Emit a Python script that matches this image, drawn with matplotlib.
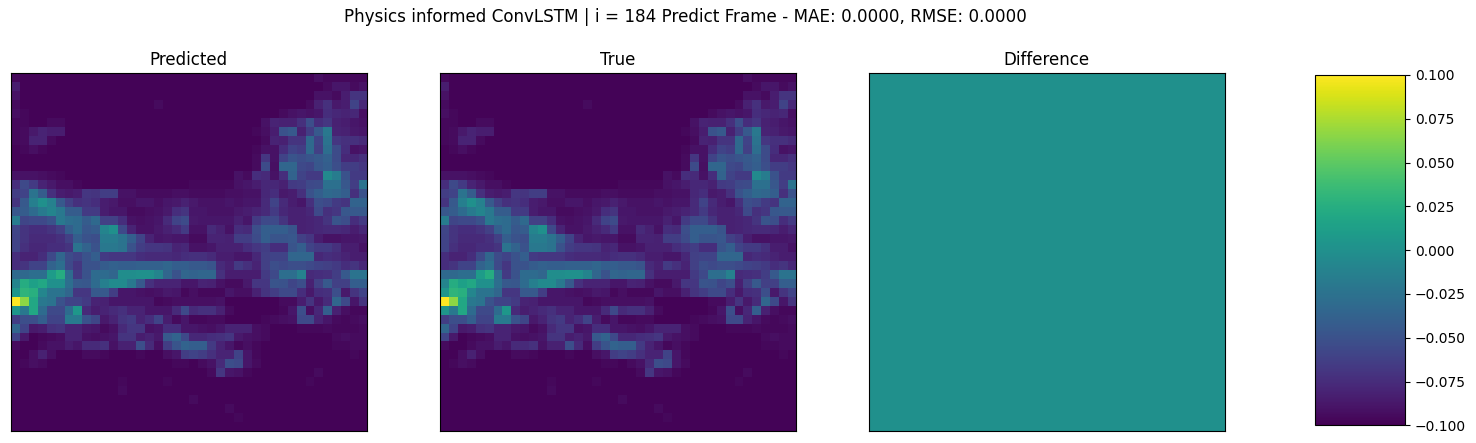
import numpy as np
import matplotlib
matplotlib.use("Agg")
import matplotlib.pyplot as plt

W, H = 1476, 443

SUPTITLE = "Physics informed ConvLSTM | i = 184 Predict Frame - MAE: 0.0000, RMSE: 0.0000"
PANEL_TITLES = ["Predicted", "True", "Difference"]
CBAR_TICKS = [-0.100, -0.075, -0.050, -0.025, 0.000, 0.025, 0.050, 0.075, 0.100]

# frame values, in percent of the frame maximum
# columns 0-19
left_half = [
    [2, 1, 1, 1, 1, 1, 1, 1, 1, 1, 1, 1, 1, 1, 1, 1, 1, 1, 1, 1],
    [8, 1, 1, 1, 1, 1, 1, 1, 1, 1, 1, 1, 1, 1, 1, 1, 1, 1, 1, 1],
    [5, 1, 1, 1, 1, 1, 1, 1, 1, 1, 1, 1, 1, 1, 1, 1, 1, 1, 1, 1],
    [3, 1, 1, 1, 1, 1, 1, 1, 1, 1, 1, 1, 1, 1, 1, 1, 3, 1, 1, 1],
    [4, 2, 1, 1, 1, 1, 1, 1, 1, 1, 1, 1, 1, 1, 1, 1, 1, 1, 1, 1],
    [2, 2, 1, 1, 3, 3, 1, 1, 1, 1, 1, 1, 1, 1, 1, 1, 1, 1, 1, 1],
    [2, 3, 7, 10, 8, 8, 1, 1, 1, 1, 1, 1, 1, 1, 1, 1, 1, 1, 1, 1],
    [2, 3, 10, 10, 3, 1, 1, 1, 1, 1, 1, 1, 1, 1, 1, 1, 1, 1, 1, 1],
    [1, 2, 4, 2, 1, 1, 1, 1, 1, 1, 1, 1, 1, 1, 1, 1, 1, 1, 1, 1],
    [1, 1, 1, 1, 1, 1, 1, 1, 1, 1, 1, 1, 1, 1, 1, 1, 1, 1, 1, 1],
    [1, 1, 1, 1, 1, 1, 1, 1, 1, 1, 1, 1, 1, 1, 1, 1, 1, 1, 1, 1],
    [5, 5, 5, 4, 3, 2, 1, 1, 1, 1, 1, 1, 1, 1, 1, 1, 1, 1, 1, 1],
    [13, 22, 17, 10, 7, 4, 4, 2, 1, 1, 1, 1, 1, 1, 1, 1, 1, 1, 1, 1],
    [18, 20, 38, 29, 14, 8, 7, 8, 16, 15, 18, 18, 5, 5, 3, 3, 3, 3, 4, 4],
    [15, 28, 43, 50, 44, 28, 19, 14, 15, 13, 8, 7, 4, 4, 6, 6, 4, 6, 7, 9],
    [27, 29, 35, 41, 45, 40, 29, 29, 17, 17, 8, 6, 6, 3, 3, 4, 5, 7, 13, 15],
    [42, 21, 22, 22, 25, 40, 36, 35, 29, 34, 19, 19, 13, 5, 4, 5, 6, 12, 20, 23],
    [21, 15, 13, 13, 15, 19, 30, 35, 27, 29, 45, 50, 22, 10, 5, 5, 7, 9, 12, 17],
    [20, 15, 12, 12, 12, 14, 19, 30, 25, 24, 42, 42, 38, 30, 20, 10, 6, 7, 6, 6],
    [20, 14, 11, 11, 13, 13, 15, 38, 32, 25, 40, 40, 38, 25, 18, 16, 16, 15, 10, 11],
    [13, 10, 10, 13, 22, 33, 23, 20, 25, 30, 17, 16, 16, 16, 13, 12, 12, 12, 11, 13],
    [13, 15, 20, 20, 32, 36, 22, 16, 25, 25, 29, 31, 30, 30, 31, 31, 31, 33, 30, 30],
    [34, 34, 36, 36, 55, 62, 35, 17, 25, 35, 35, 33, 49, 49, 50, 50, 45, 33, 25, 33],
    [45, 62, 57, 60, 50, 50, 36, 28, 27, 35, 43, 48, 48, 40, 28, 14, 10, 10, 10, 6],
    [52, 65, 63, 46, 38, 38, 33, 16, 16, 28, 28, 18, 6, 6, 5, 4, 5, 7, 6, 2],
    [100, 83, 60, 40, 38, 25, 20, 20, 17, 10, 9, 6, 6, 6, 6, 6, 2, 3, 4, 4],
    [52, 40, 60, 35, 22, 22, 35, 53, 12, 8, 10, 12, 14, 10, 10, 6, 6, 6, 12, 22],
    [18, 24, 24, 30, 20, 20, 41, 41, 25, 21, 7, 10, 15, 17, 10, 13, 20, 8, 3, 6],
    [33, 20, 7, 8, 14, 15, 10, 10, 7, 6, 3, 5, 12, 16, 16, 5, 6, 13, 13, 6],
    [20, 7, 1, 2, 3, 4, 10, 10, 5, 4, 5, 6, 15, 15, 8, 10, 7, 28, 32, 22],
    [3, 1, 1, 3, 5, 5, 8, 6, 12, 12, 14, 5, 9, 9, 24, 12, 4, 18, 26, 32],
    [1, 1, 4, 9, 4, 1, 1, 1, 3, 3, 2, 1, 1, 1, 2, 1, 1, 4, 6, 18],
    [1, 2, 4, 3, 1, 1, 1, 1, 1, 1, 1, 1, 1, 1, 1, 1, 1, 1, 2, 2],
    [1, 1, 1, 1, 1, 1, 1, 1, 1, 1, 1, 1, 1, 1, 1, 1, 1, 1, 1, 1],
    [1, 1, 1, 1, 1, 1, 1, 1, 1, 1, 1, 1, 2, 1, 1, 1, 1, 2, 1, 1],
    [1, 1, 1, 1, 1, 1, 1, 1, 1, 1, 1, 1, 3, 1, 1, 1, 1, 1, 1, 1],
    [1, 1, 1, 1, 1, 1, 1, 1, 1, 1, 1, 1, 1, 1, 1, 1, 1, 1, 1, 1],
    [1, 1, 1, 1, 1, 1, 1, 1, 1, 1, 1, 1, 1, 1, 1, 1, 1, 1, 1, 1],
    [1, 1, 1, 1, 1, 1, 1, 1, 1, 1, 1, 1, 1, 1, 1, 1, 1, 1, 1, 1],
    [1, 1, 1, 1, 1, 1, 1, 1, 1, 1, 1, 1, 1, 1, 1, 1, 1, 1, 1, 1],
]

# columns 20-39
right_half = [
    [1, 1, 1, 1, 1, 1, 1, 1, 1, 1, 1, 1, 1, 1, 4, 2, 2, 2, 2, 2],
    [1, 1, 1, 1, 1, 1, 1, 1, 1, 1, 1, 1, 1, 1, 1, 3, 6, 6, 3, 5],
    [1, 1, 1, 1, 1, 1, 1, 1, 1, 1, 1, 1, 1, 1, 5, 5, 3, 8, 15, 15],
    [1, 1, 1, 1, 1, 1, 1, 1, 1, 1, 1, 1, 1, 3, 9, 14, 7, 8, 20, 11],
    [1, 1, 1, 1, 1, 1, 1, 1, 1, 1, 3, 5, 6, 5, 6, 13, 11, 10, 11, 4],
    [1, 1, 1, 1, 1, 1, 1, 1, 5, 10, 9, 9, 14, 24, 13, 16, 9, 8, 6, 5],
    [1, 1, 1, 1, 1, 1, 1, 2, 4, 8, 25, 28, 9, 18, 28, 40, 10, 9, 7, 6],
    [1, 1, 1, 1, 1, 1, 1, 1, 3, 10, 9, 15, 15, 34, 20, 38, 16, 14, 14, 12],
    [1, 1, 1, 1, 1, 1, 1, 2, 5, 5, 13, 20, 18, 34, 19, 36, 23, 13, 5, 6],
    [1, 1, 1, 1, 1, 1, 1, 3, 16, 5, 20, 26, 24, 26, 28, 31, 23, 11, 11, 14],
    [1, 1, 1, 1, 1, 1, 1, 3, 23, 4, 33, 33, 22, 21, 27, 30, 24, 18, 18, 16],
    [1, 1, 1, 1, 1, 5, 3, 13, 12, 5, 13, 32, 20, 17, 17, 48, 42, 25, 17, 17],
    [2, 2, 2, 2, 2, 5, 6, 8, 11, 11, 9, 17, 18, 22, 23, 37, 37, 27, 18, 38],
    [3, 3, 3, 3, 4, 4, 5, 5, 11, 13, 7, 8, 14, 25, 30, 34, 33, 30, 14, 25],
    [7, 5, 5, 5, 6, 5, 6, 6, 12, 20, 12, 8, 6, 14, 24, 22, 17, 15, 32, 32],
    [6, 6, 5, 5, 5, 7, 8, 10, 12, 17, 11, 9, 9, 11, 22, 14, 16, 27, 28, 28],
    [7, 6, 6, 6, 6, 9, 6, 17, 22, 22, 15, 9, 9, 10, 11, 15, 26, 24, 13, 17],
    [5, 5, 12, 9, 5, 13, 12, 24, 30, 30, 30, 26, 9, 10, 11, 12, 12, 11, 8, 11],
    [3, 3, 10, 10, 9, 18, 18, 23, 30, 26, 26, 27, 19, 16, 8, 5, 5, 6, 6, 7],
    [5, 5, 6, 9, 9, 9, 13, 16, 18, 13, 13, 26, 30, 20, 17, 17, 14, 8, 8, 5],
    [14, 14, 12, 8, 8, 6, 6, 11, 19, 20, 20, 33, 33, 33, 11, 13, 12, 10, 8, 8],
    [28, 28, 26, 12, 9, 17, 14, 10, 19, 24, 22, 24, 24, 22, 20, 19, 17, 13, 15, 11],
    [32, 33, 33, 14, 8, 8, 8, 8, 17, 22, 36, 36, 44, 12, 13, 14, 18, 28, 38, 38],
    [6, 10, 9, 5, 3, 3, 7, 16, 16, 26, 25, 21, 24, 9, 19, 28, 19, 19, 30, 30],
    [4, 2, 2, 2, 6, 4, 4, 9, 15, 18, 22, 22, 13, 7, 13, 14, 24, 7, 15, 20],
    [4, 4, 4, 5, 1, 1, 1, 1, 1, 1, 3, 3, 8, 15, 7, 12, 33, 22, 6, 15],
    [12, 14, 14, 9, 3, 1, 1, 1, 1, 1, 2, 6, 24, 4, 11, 30, 9, 4, 2, 2],
    [2, 2, 3, 3, 1, 1, 1, 1, 2, 3, 4, 5, 22, 22, 10, 6, 3, 2, 3, 4],
    [6, 5, 4, 6, 10, 10, 10, 4, 3, 1, 1, 1, 2, 2, 2, 3, 2, 2, 2, 3],
    [11, 11, 13, 14, 16, 7, 5, 4, 3, 1, 1, 1, 1, 1, 1, 1, 3, 4, 3, 3],
    [30, 30, 17, 10, 6, 2, 4, 2, 1, 1, 1, 1, 1, 1, 1, 1, 2, 2, 3, 3],
    [20, 18, 14, 10, 10, 20, 6, 2, 1, 1, 1, 1, 1, 1, 1, 1, 1, 1, 2, 1],
    [1, 3, 5, 12, 24, 22, 6, 3, 1, 1, 1, 1, 1, 1, 1, 1, 1, 1, 1, 1],
    [1, 1, 3, 16, 6, 5, 2, 1, 1, 1, 1, 1, 1, 1, 3, 1, 1, 1, 1, 1],
    [1, 1, 1, 1, 1, 1, 1, 1, 1, 1, 1, 1, 1, 2, 1, 1, 1, 1, 1, 1],
    [1, 1, 1, 1, 1, 1, 1, 1, 1, 1, 1, 1, 1, 1, 1, 1, 1, 1, 1, 1],
    [3, 1, 1, 1, 1, 1, 1, 1, 1, 1, 1, 1, 1, 1, 1, 1, 1, 1, 1, 1],
    [1, 1, 1, 1, 3, 1, 1, 1, 1, 1, 1, 1, 1, 1, 1, 1, 1, 1, 1, 1],
    [1, 1, 1, 1, 1, 2, 1, 1, 1, 1, 1, 1, 1, 1, 1, 1, 1, 1, 1, 1],
    [1, 1, 1, 1, 1, 1, 1, 1, 1, 1, 1, 1, 1, 1, 1, 1, 1, 1, 1, 1],
]


def px_axes(fig, x0, y0, x1, y1):
    # pixel box measured from the top-left corner of the reference
    return fig.add_axes([x0 / W, 1 - y1 / H, (x1 - x0) / W, (y1 - y0) / H])


def main():
    frame = np.hstack([np.array(left_half), np.array(right_half)]) / 100.0
    diff = frame - frame

    fig = plt.figure(figsize=(W / 100, H / 100), dpi=100)
    boxes = [(10.5, 73.2, 367.2, 431.2), (439.5, 73.2, 796.2, 431.2), (868.5, 73.2, 1225.2, 431.2)]
    panels = [frame, frame, diff]
    limits = [(0, 1), (0, 1), (-0.1, 0.1)]

    for box, img, (lo, hi), title in zip(boxes, panels, limits, PANEL_TITLES):
        ax = px_axes(fig, *box)
        im = ax.imshow(img, cmap="viridis", vmin=lo, vmax=hi, aspect="auto")
        ax.set_xticks([])
        ax.set_yticks([])
        ax.set_title(title, fontsize=11.95)

    cax = px_axes(fig, 1315.3, 75, 1405.3, 425.3)
    cb = fig.colorbar(im, cax=cax)
    cb.set_ticks(CBAR_TICKS)
    cb.ax.tick_params(labelsize=10)

    fig.text(685 / W, 1 - 17 / H, SUPTITLE, ha="center", va="center", fontsize=12.05)
    fig.savefig("out.png", dpi=100)


if __name__ == "__main__":
    main()
